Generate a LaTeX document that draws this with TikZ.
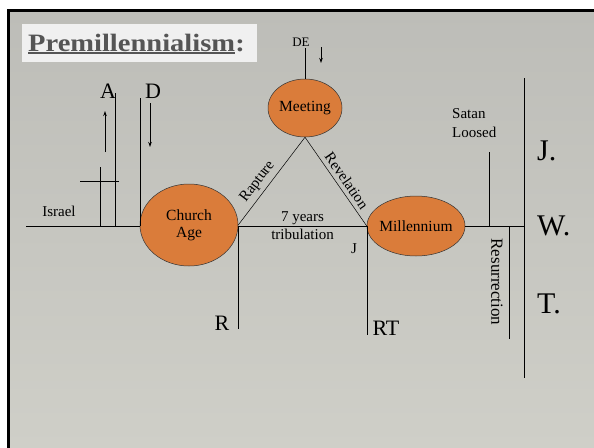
\documentclass[tikz,border=0pt]{standalone}
\usepackage{fontspec}
\setmainfont{Liberation Serif}
\newfontfamily\titlefont{Liberation Serif}[FakeStretch=1.14]
\usetikzlibrary{shapes.geometric,arrows.meta}

\definecolor{slidetop}{HTML}{BDBDB8}
\definecolor{slidemid}{HTML}{E4E4DF}
\definecolor{slidebot}{HTML}{CFCFC8}
\definecolor{eraorange}{HTML}{DA7C3A}
\definecolor{titlegray}{HTML}{555555}

\begin{document}
\begin{tikzpicture}[x=1pt,y=-1pt,
  era/.style={ellipse,draw=black!80,line width=0.5pt,fill=eraorange,
              inner sep=0pt,inner xsep=-10pt,align=center,font=\fontsize{15.5}{17}\selectfont},
  bar/.style={line width=1pt},
  lbl/.style={inner sep=0pt,font=\fontsize{15}{19}\selectfont},
  biglbl/.style={inner sep=0pt,anchor=base,font=\fontsize{22}{22}\selectfont},
  hugelbl/.style={inner sep=0pt,anchor=base west,font=\fontsize{30}{30}\selectfont},
  tip/.style={line width=1pt,-{Stealth[length=5pt,width=3.5pt]}}]

  % slide background
  \useasboundingbox (0,0) rectangle (594,447);
  \fill[white] (0,0) rectangle (594,447);
  \shade[top color=slidetop,middle color=slidemid,bottom color=slidebot]
    (8.5,10.5) rectangle (596,449);
  \draw[line width=3pt] (8.5,449) |- (596,10.5);

  % title
  \fill[white!94!black] (22,24) rectangle (257,62);
  \node[inner sep=0pt,anchor=base west,text=titlegray,
        font=\titlefont\bfseries\fontsize{25}{25}\selectfont] (title) at (28,51) {Premillennialism};
  \node[inner sep=0pt,anchor=base west,text=titlegray,
        font=\titlefont\bfseries\fontsize{25}{25}\selectfont] (colon) at (title.base east) {:};
  \draw[titlegray,line width=2pt] ([yshift=-2pt]title.base west) -- ([yshift=-2pt]title.base east);

  % the three ages
  \node[era,minimum width=74pt,minimum height=58pt] (meet) at (305,108) {Meeting};
  \node[era,minimum width=98pt,minimum height=82pt] (church) at (189,225) {Church\\Age};
  \node[era,minimum width=98pt,minimum height=60pt] (mill) at (416,226) {Millennium};

  % free ends
  \coordinate (deTop) at (305,48);
  \coordinate (deArrA) at (321,47);   \coordinate (deArrB) at (321,63);
  \coordinate (lineL) at (26,226);
  \coordinate (aTop) at (115,93);     \coordinate (aFoot) at (115,226);
  \coordinate (dTop) at (140,98);     \coordinate (dFoot) at (140,226);
  \coordinate (upA) at (105,152);     \coordinate (upB) at (105,111);
  \coordinate (downA) at (150,103);   \coordinate (downB) at (150,147);
  \coordinate (crossTop) at (100,167); \coordinate (crossFoot) at (100,226);
  \coordinate (crossL) at (80,181);   \coordinate (crossR) at (119,181);
  \coordinate (rTop) at (238,226);    \coordinate (rFoot) at (238,329);
  \coordinate (rtTop) at (367,226);   \coordinate (rtFoot) at (367,335);
  \coordinate (lineR) at (524,226);
  \coordinate (satanTop) at (489,152); \coordinate (satanFoot) at (489,226);
  \coordinate (resTop) at (509,226);  \coordinate (resFoot) at (509,339);
  \coordinate (jwtTop) at (524,78);   \coordinate (jwtFoot) at (524,378);

  % triangle
  \draw[line width=0.5pt] (church.east) -- node[lbl,sloped,above=4pt,pos=0.42] {Rapture} (meet.south);
  \draw[line width=0.5pt] (meet.south) -- node[lbl,sloped,above=4pt,pos=0.55] {Revelation} (mill.west);
  \draw[bar] (rTop) -- node[lbl,above=1pt] {7 years} node[lbl,below=3pt] {tribulation} (rtTop);

  % lines
  \draw[bar] (meet.north) -- (deTop);
  \draw[tip] (deArrA) -- (deArrB);
  \draw[bar] (lineL) -- (dFoot);
  \draw[bar] (aTop) -- (aFoot);
  \draw[bar] (dTop) -- (dFoot);
  \draw[tip] (upA) -- (upB);
  \draw[tip] (downA) -- (downB);
  \draw[bar] (crossTop) -- (crossFoot);
  \draw[bar] (crossL) -- (crossR);
  \draw[bar] (rTop) -- (rFoot);
  \draw[bar] (rtTop) -- (rtFoot);
  \draw[bar] (mill.east) -- (lineR);
  \draw[bar] (satanTop) -- (satanFoot);
  \draw[bar] (resTop) -- (resFoot);
  \draw[bar] (jwtTop) -- (jwtFoot);

  % labels
  \node[inner sep=0pt,anchor=base,font=\fontsize{13}{13}\selectfont] (de) at (301,46) {DE};
  \node[biglbl] (a) at (108,98) {A};
  \node[biglbl] (d) at (153,98) {D};
  \node[lbl,anchor=base] (israel) at (59,216) {Israel};
  \node[lbl,anchor=base] (j) at (354,253) {J};
  \node[biglbl] (r) at (222,330) {R};
  \node[biglbl] (rt) at (386,335) {RT};
  \node[lbl,anchor=north west,align=left] (satan) at (452,108.5) {Satan\\Loosed};
  \node[inner sep=0pt,rotate=-90,font=\fontsize{17}{17}\selectfont] (res) at (497,282) {Resurrection};
  \node[hugelbl] (jj) at (537,160) {J.};
  \node[hugelbl] (ww) at (537,235) {W.};
  \node[hugelbl] (tt) at (537,313) {T.};
\end{tikzpicture}
\end{document}
